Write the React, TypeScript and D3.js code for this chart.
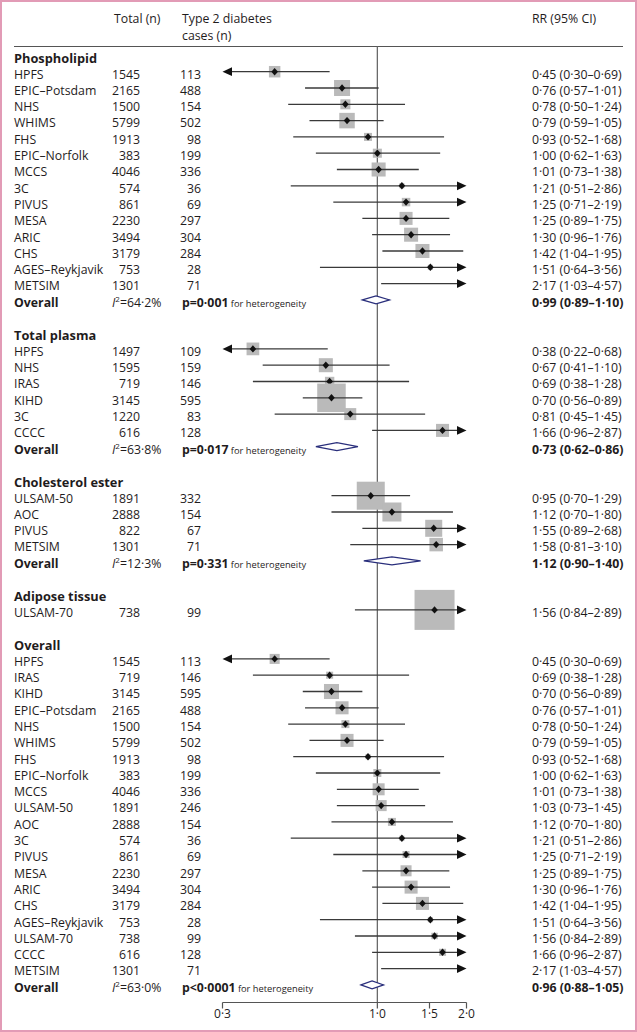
import React from "react";
import * as d3 from "d3";

// ---------- DATA ----------
const sectionTitles = ["Phospholipid", "Total plasma", "Cholesterol ester", "Adipose tissue", "Overall"];

const phosNames = ["HPFS", "EPIC–Potsdam", "NHS", "WHIMS", "FHS", "EPIC–Norfolk", "MCCS", "3C", "PIVUS", "MESA", "ARIC", "CHS", "AGES–Reykjavik", "METSIM"];
const phosTotal = [1545, 2165, 1500, 5799, 1913, 383, 4046, 574, 861, 2230, 3494, 3179, 753, 1301];
const phosCases = [113, 488, 154, 502, 98, 199, 336, 36, 69, 297, 304, 284, 28, 71];
const phosRR = [0.45, 0.76, 0.78, 0.79, 0.93, 1.0, 1.01, 1.21, 1.25, 1.25, 1.3, 1.42, 1.51, 2.17];
const phosLo = [0.3, 0.57, 0.5, 0.59, 0.52, 0.62, 0.73, 0.51, 0.71, 0.89, 0.96, 1.04, 0.64, 1.03];
const phosHi = [0.69, 1.01, 1.24, 1.05, 1.68, 1.63, 1.38, 2.86, 2.19, 1.75, 1.76, 1.95, 3.56, 4.57];
const phosWeight = [8.2, 16, 6.3, 15, 4, 5.1, 12.3, 1.6, 4.5, 10.6, 12.3, 12.3, 1.6, 2.3];

const plasNames = ["HPFS", "NHS", "IRAS", "KIHD", "3C", "CCCC"];
const plasTotal = [1497, 1595, 719, 3145, 1220, 616];
const plasCases = [109, 159, 146, 595, 83, 128];
const plasRR = [0.38, 0.67, 0.69, 0.7, 0.81, 1.66];
const plasLo = [0.22, 0.41, 0.38, 0.56, 0.45, 0.96];
const plasHi = [0.68, 1.1, 1.28, 0.89, 1.45, 2.87];
const plasWeight = [10.1, 12.3, 5.5, 50.8, 9, 10.6];

const cholNames = ["ULSAM-50", "AOC", "PIVUS", "METSIM"];
const cholTotal = [1891, 2888, 822, 1301];
const cholCases = [332, 154, 67, 71];
const cholRR = [0.95, 1.12, 1.55, 1.58];
const cholLo = [0.7, 0.7, 0.89, 0.81];
const cholHi = [1.29, 1.8, 2.68, 3.1];
const cholWeight = [49, 22.6, 18.1, 11.4];

const adipNames = ["ULSAM-70"];
const adipTotal = [738];
const adipCases = [99];
const adipRR = [1.56];
const adipLo = [0.84];
const adipHi = [2.89];
const adipWeight = [100];

const allNames = ["HPFS", "IRAS", "KIHD", "EPIC–Potsdam", "NHS", "WHIMS", "FHS", "EPIC–Norfolk", "MCCS", "ULSAM-50", "AOC", "3C", "PIVUS", "MESA", "ARIC", "CHS", "AGES–Reykjavik", "ULSAM-70", "CCCC", "METSIM"];
const allTotal = [1545, 719, 3145, 2165, 1500, 5799, 1913, 383, 4046, 1891, 2888, 574, 861, 2230, 3494, 3179, 753, 738, 616, 1301];
const allCases = [113, 146, 595, 488, 154, 502, 98, 199, 336, 246, 154, 36, 69, 297, 304, 284, 28, 99, 128, 71];
const allRR = [0.45, 0.69, 0.7, 0.76, 0.78, 0.79, 0.93, 1.0, 1.01, 1.03, 1.12, 1.21, 1.25, 1.25, 1.3, 1.42, 1.51, 1.56, 1.66, 2.17];
const allLo = [0.3, 0.38, 0.56, 0.57, 0.5, 0.59, 0.52, 0.62, 0.73, 0.73, 0.7, 0.51, 0.71, 0.89, 0.96, 1.04, 0.64, 0.84, 0.96, 1.03];
const allHi = [0.69, 1.28, 0.89, 1.01, 1.24, 1.05, 1.68, 1.63, 1.38, 1.45, 1.8, 2.86, 2.19, 1.75, 1.76, 1.95, 3.56, 2.89, 2.87, 4.57];
const allWeight = [6.3, 3.1, 14.1, 10.6, 4, 10.6, 1.6, 4, 9, 7.6, 4, 1.6, 3.1, 7.6, 10.6, 10.6, 1.6, 2.6, 3.1, 2.3];

const overallI2 = ["64·2%", "63·8%", "12·3%", null, "63·0%"];
const overallP = ["p=0·001", "p=0·017", "p=0·331", null, "p<0·0001"];
const overallRR = [0.99, 0.73, 1.12, null, 0.96];
const overallLo = [0.89, 0.62, 0.9, null, 0.88];
const overallHi = [1.1, 0.86, 1.4, null, 1.05];

const axisTicks = [0.3, 1.0, 1.5, 2.0];
const axisTickLabels = ["0·3", "1·0", "1·5", "2·0"];

// ---------- LAYOUT ----------
const W = 637;
const H = 1032;
const FONT = "'Open Sans', Lato, sans-serif";
const TXT = "#1f1c1d";
const FS = 12.3;

const sections = [
  { names: phosNames, total: phosTotal, cases: phosCases, rr: phosRR, lo: phosLo, hi: phosHi, w: phosWeight },
  { names: plasNames, total: plasTotal, cases: plasCases, rr: plasRR, lo: plasLo, hi: plasHi, w: plasWeight },
  { names: cholNames, total: cholTotal, cases: cholCases, rr: cholRR, lo: cholLo, hi: cholHi, w: cholWeight },
  { names: adipNames, total: adipTotal, cases: adipCases, rr: adipRR, lo: adipLo, hi: adipHi, w: adipWeight },
  { names: allNames, total: allTotal, cases: allCases, rr: allRR, lo: allLo, hi: allHi, w: allWeight },
];

const fmt = (v: number) => v.toFixed(2).replace(".", "·");

export default function App() {
  const x = d3.scaleLog().domain([0.3, 2.0]).range([222.5, 466.5]);
  const side = d3.scaleSqrt().domain([0, 100]).range([0, 40]);
  const [xMin, xMax] = x.range();

  const pitch = 16.3;
  const gap = 49;
  const headerLineY = 46.5;
  const axisY = 1002.5;
  const tdy = 6.8;

  type Row = { kind: "heading" | "study" | "overall"; y: number; s: number; i: number };
  const rows: Row[] = [];
  let first = 71.7;
  sections.forEach((sec, s) => {
    rows.push({ kind: "heading", y: first - 15.5, s, i: -1 });
    let y = first;
    sec.names.forEach((_, i) => {
      rows.push({ kind: "study", y, s, i });
      y += pitch;
    });
    if (overallRR[s] != null) {
      rows.push({ kind: "overall", y, s, i: -1 });
    } else {
      y -= pitch;
    }
    first = y + gap;
  });

  const refX = x(1);

  const arrowLeft = (y: number) => `M${xMin},${y}L${xMin + 9.5},${y - 4.4}L${xMin + 9.5},${y + 4.4}Z`;
  const arrowRight = (y: number) => `M${xMax},${y}L${xMax - 9.5},${y - 4.4}L${xMax - 9.5},${y + 4.4}Z`;
  const diamondPt = (cx: number, y: number) => `M${cx},${y - 3.7}L${cx + 3.3},${y}L${cx},${y + 3.7}L${cx - 3.3},${y}Z`;

  return (
    <svg width={W} height={H} style={{ position: "absolute", left: 0, top: 0, background: "#fff" }} fontFamily={FONT}>
      <rect x={1} y={1} width={W - 2} height={H - 2} fill="#fff" stroke="#e29bb6" strokeWidth={2} />

      {/* header */}
      <g fill={TXT} fontSize={FS}>
        <text x={114} y={23}>Total (n)</text>
        <text x={182} y={23}>Type 2 diabetes</text>
        <text x={182} y={39.5}>cases (n)</text>
        <text x={532} y={23}>RR (95% CI)</text>
      </g>
      <line x1={14} x2={623} y1={headerLineY} y2={headerLineY} stroke="#555" strokeWidth={1.2} />

      {/* reference line */}
      <line x1={refX} x2={refX} y1={headerLineY} y2={axisY} stroke="#6a6a6a" strokeWidth={1.3} />

      {rows.map((r, k) => {
        if (r.kind === "heading") {
          return (
            <text key={k} x={14} y={r.y + tdy} fill={TXT} fontSize={12.8} fontWeight="bold">
              {sectionTitles[r.s]}
            </text>
          );
        }
        if (r.kind === "overall") {
          const s = r.s;
          const lo = overallLo[s] as number;
          const hi = overallHi[s] as number;
          const rr = overallRR[s] as number;
          const x0 = x(lo), x1 = x(hi), xc = x(rr);
          return (
            <g key={k}>
              <text x={14} y={r.y + tdy} fill={TXT} fontSize={FS} fontWeight="bold">Overall</text>
              <text x={112} y={r.y + tdy} fill={TXT} fontSize={FS}>
                <tspan fontStyle="italic">I</tspan>
                <tspan fontSize={8} dy={-5}>2</tspan>
                <tspan dy={5}>={overallI2[s]}</tspan>
              </text>
              <text x={182} y={r.y + tdy} fill={TXT} fontSize={FS}>
                <tspan fontWeight="bold">{overallP[s]}</tspan>
                <tspan fontSize={9.3}> for heterogeneity</tspan>
              </text>
              <path d={`M${x0},${r.y}L${xc},${r.y - 4}L${x1},${r.y}L${xc},${r.y + 4}Z`} fill="#fff" stroke="#2a2f7c" strokeWidth={1.2} />
              <text x={532} y={r.y + tdy} fill={TXT} fontSize={FS} fontWeight="bold">
                {`${fmt(rr)} (${fmt(lo)}–${fmt(hi)})`}
              </text>
            </g>
          );
        }
        const sec = sections[r.s];
        const i = r.i;
        const rr = sec.rr[i], lo = sec.lo[i], hi = sec.hi[i];
        const inRange = rr >= 0.3 && rr <= 2.0;
        const sz = side(sec.w[i]);
        const lx0 = Math.max(x(Math.max(lo, 0.3)), xMin);
        const lx1 = Math.min(x(Math.min(hi, 2.0)), xMax);
        return (
          <g key={k}>
            <text x={14} y={r.y + tdy} fill={TXT} fontSize={FS}>{sec.names[i]}</text>
            <text x={140} y={r.y + tdy} fill={TXT} fontSize={FS} textAnchor="end">{sec.total[i]}</text>
            <text x={201} y={r.y + tdy} fill={TXT} fontSize={FS} textAnchor="end">{sec.cases[i]}</text>
            {inRange && <rect x={x(rr) - sz / 2} y={r.y - sz / 2} width={sz} height={sz} fill="#bababa" />}
            <line x1={lo <= 0.3 ? lx0 + 8 : lx0} x2={hi > 2.0 ? lx1 - 8 : lx1} y1={r.y} y2={r.y} stroke="#3a3a3a" strokeWidth={1.3} />
            {lo <= 0.3 && <path d={arrowLeft(r.y)} fill="#111" />}
            {hi > 2.0 && <path d={arrowRight(r.y)} fill="#111" />}
            {inRange && <path d={diamondPt(x(rr), r.y)} fill="#111" />}
            <text x={532} y={r.y + tdy} fill={TXT} fontSize={FS}>
              {`${fmt(rr)} (${fmt(lo)}–${fmt(hi)})`}
            </text>
          </g>
        );
      })}

      {/* axis */}
      <line x1={xMin} x2={xMax} y1={axisY} y2={axisY} stroke="#555" strokeWidth={1.2} />
      {axisTicks.map((t, i) => (
        <g key={i}>
          <line x1={x(t)} x2={x(t)} y1={axisY} y2={axisY + 6} stroke="#555" strokeWidth={1.2} />
          <text x={x(t)} y={axisY + 15.5} fill={TXT} fontSize={12} textAnchor="middle">{axisTickLabels[i]}</text>
        </g>
      ))}
    </svg>
  );
}
